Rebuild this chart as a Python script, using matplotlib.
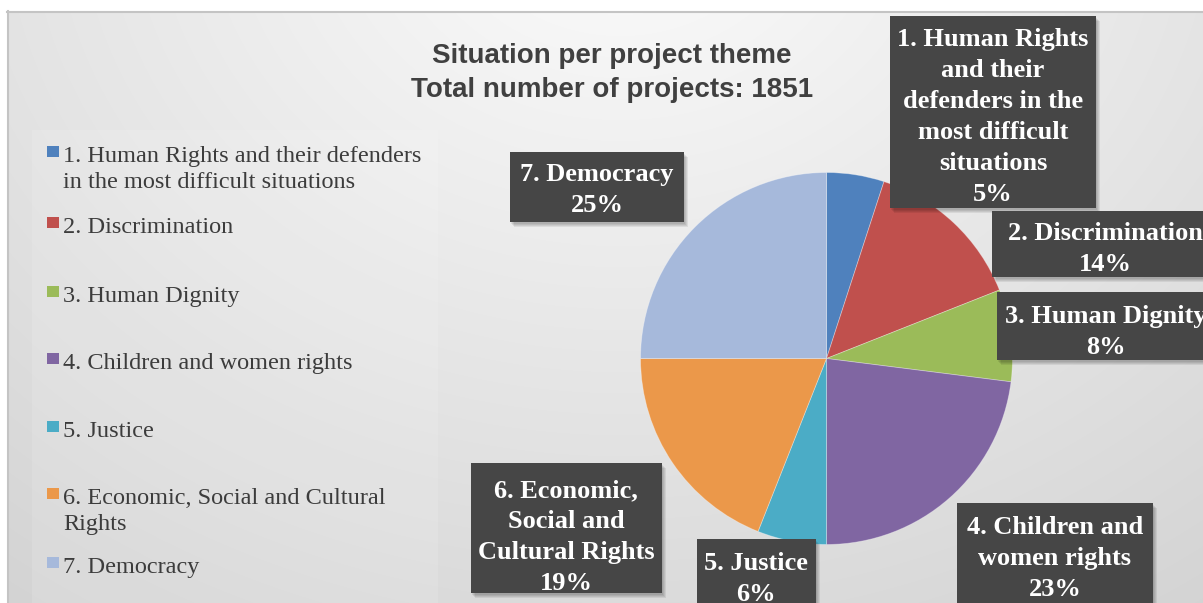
import numpy as np
import matplotlib
matplotlib.use("Agg")
import matplotlib.pyplot as plt
from matplotlib.patches import Rectangle

# ---------------- data ----------------
categories = ["1. Human Rights and their defenders in the most difficult situations",
              "2. Discrimination", "3. Human Dignity", "4. Children and women rights",
              "5. Justice", "6. Economic, Social and Cultural Rights", "7. Democracy"]
legend_labels = ["1. Human Rights and their defenders\nin the most difficult situations",
                 "2. Discrimination", "3. Human Dignity", "4. Children and women rights",
                 "5. Justice", "6. Economic, Social and Cultural\nRights", "7. Democracy"]
box_labels = ["1. Human Rights\nand their\ndefenders in the\nmost difficult\nsituations",
              "2. Discrimination", "3. Human Dignity", "4. Children and\nwomen rights",
              "5. Justice", "6. Economic,\nSocial and\nCultural Rights", "7. Democracy"]
shares = [5, 14, 8, 23, 6, 19, 25]
colors = ["#4F81BD", "#C0504D", "#9BBB59", "#8066A2", "#4BACC6", "#EB984A", "#A6B9DB"]
title_lines = ["Situation per project theme", "Total number of projects: 1851"]

# ---------------- layout (pixels) ----------------
W, H = 1203, 603
fig = plt.figure(figsize=(W / 100, H / 100), dpi=100)

bg = fig.add_axes([0, 0, 1, 1], zorder=0)
bg.set_xlim(0, W); bg.set_ylim(H, 0); bg.axis("off")

# radial gradient background
yy, xx = np.mgrid[0:H, 0:W]
d = np.sqrt(((xx - 620) / 900.0) ** 2 + ((yy + 100) / 750.0) ** 2)
val = np.clip(0.99 - 0.14 * d, 0, 1)
img = np.dstack([val, val, val])
bg.imshow(img, extent=(0, W, H, 0), aspect="auto", interpolation="bilinear")
# white outer margin with border line
bg.add_patch(Rectangle((0, 0), W, 11, color="white", lw=0))
bg.add_patch(Rectangle((0, 0), 7, H, color="white", lw=0))
bg.plot([7, W], [11.5, 11.5], color="#c4c4c4", lw=1.5)
bg.plot([7.5, 7.5], [11, H], color="#c4c4c4", lw=1.5)
# lighter legend panel
bg.add_patch(Rectangle((32, 130), 406, 480, color="white", alpha=0.12, lw=0))

# title
for i, t in enumerate(title_lines):
    bg.text(612, 56 + 34 * i, t, ha="center", va="center", fontsize=20,
            fontweight="bold", family="Liberation Sans", color="#404040")

# legend (manual)
leg_baselines = [162, 233, 302, 369, 437, 504, 573]
for lab, col, yb in zip(legend_labels, colors, leg_baselines):
    bg.add_patch(Rectangle((47, yb - 16), 12, 11, color=col, lw=0))
    for k, line in enumerate(lab.split("\n")):
        bg.text(63, yb + 26 * k, line, ha="left", va="baseline", fontsize=17.5,
                family="Liberation Serif", color="#3c3c3c")

# pie
cx, cy, r = 826.5, 358.5, 186
pax = fig.add_axes([(cx - r) / W, (H - cy - r) / H, 2 * r / W, 2 * r / H], zorder=1)
pax.pie(shares, colors=colors, startangle=90, counterclock=False, radius=1,
        wedgeprops=dict(linewidth=0.6, edgecolor=(1, 1, 1, 0.35)))
pax.set_xlim(-1, 1); pax.set_ylim(-1, 1); pax.set_aspect("equal"); pax.axis("off")

# data label boxes
ov = fig.add_axes([0, 0, 1, 1], zorder=2)
ov.set_xlim(0, W); ov.set_ylim(H, 0); ov.axis("off"); ov.patch.set_alpha(0)

box_rects = [(890, 16, 1096, 208), (992, 211, 1236, 277), (997, 292, 1233, 360),
             (957, 503, 1153, 630), (697, 539, 816, 630), (471, 463, 662, 593),
             (510, 152, 684, 222)]
text_centers = [(993, 115), (1105, 247), (1106, 330), (1055, 556), (756, 577),
                (566, 535), (597, 188)]
pitch = 31
for lab, sh, (x0, y0, x1, y1), (tx, ty) in zip(box_labels, shares, box_rects, text_centers):
    for s in range(4):
        ov.add_patch(Rectangle((x0 + 1 + s, y0 + 2 + s), x1 - x0, y1 - y0,
                               color="black", alpha=0.07, lw=0))
    ov.add_patch(Rectangle((x0, y0), x1 - x0, y1 - y0, color="#464646", lw=0))
    lines = lab.split("\n") + [f"{sh}%"]
    n = len(lines)
    for k, line in enumerate(lines):
        yb = ty + (k - (n - 1) / 2) * pitch + 8.5
        ov.text(tx, yb, line, ha="center", va="baseline", fontsize=19,
                fontweight="bold", family="Liberation Serif", color="white")

fig.savefig("out.png", dpi=100)
